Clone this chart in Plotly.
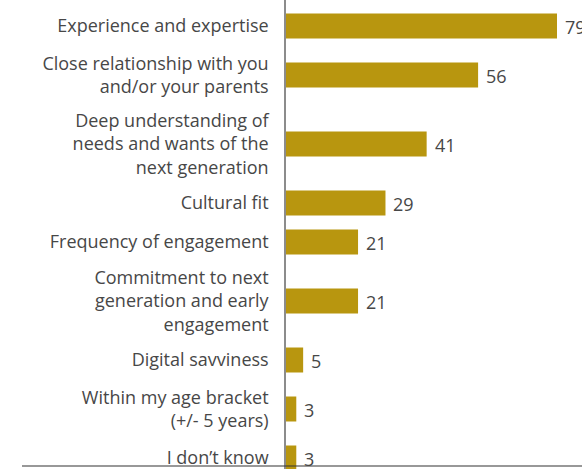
import plotly.graph_objects as go

# Survey responses (% of respondents)
categories = [
    "Experience and expertise",
    "Close relationship with you<br>and/or your parents",
    "Deep understanding of<br>needs and wants of the<br>next generation",
    "Cultural fit",
    "Frequency of engagement",
    "Commitment to next<br>generation and early<br>engagement",
    "Digital savviness",
    "Within my age bracket<br>(+/- 5 years)",
    "I don\u2019t know",
]
values = [79, 56, 41, 29, 21, 21, 5, 3, 3]

W, H = 582, 469
BAR_COLOR = "#B8960F"
TEXT_COLOR = "#474747"
FONT = "Open Sans"

# Row centres (in pixel-like units on a reversed y axis): spacing grows with
# the number of lines in the neighbouring labels.
lines = [c.count("<br>") + 1 for c in categories]
pos = [26.0]
for i in range(1, len(categories)):
    pos.append(pos[-1] + 39 + 10 * (lines[i - 1] - 1) + 10 * (lines[i] - 1))

x0_px = 286
px_per_unit = (557 - x0_px) / 79
x_max = (W - x0_px) / px_per_unit

fig = go.Figure()
fig.add_trace(go.Bar(
    x=values, y=pos, orientation="h", width=25,
    marker=dict(color=BAR_COLOR, line=dict(width=0)),
    hoverinfo="skip",
))

# Value labels just to the right of each bar
annotations = [
    dict(x=v, y=p, xref="x", yref="y", text=str(v), showarrow=False,
         xanchor="left", yanchor="middle", xshift=6, yshift=-1,
         font=dict(family=FONT, size=18, color=TEXT_COLOR))
    for v, p in zip(values, pos)
]

fig.update_layout(
    width=W, height=H,
    margin=dict(l=0, r=0, t=0, b=0),
    paper_bgcolor="white", plot_bgcolor="white",
    showlegend=False,
    font=dict(family=FONT, size=18, color=TEXT_COLOR),
    xaxis=dict(domain=[x0_px / W, 1], range=[0, x_max], visible=False, fixedrange=True),
    yaxis=dict(
        range=[H, 0], tickvals=pos, ticktext=categories,
        showgrid=False, zeroline=False,
        showline=True, linecolor="#8C8C8C", linewidth=1.5,
        ticks="", ticklabelstandoff=12, ticklabeloverflow="allow",
        tickfont=dict(family=FONT, size=18, color=TEXT_COLOR),
    ),
    annotations=annotations,
    shapes=[dict(
        type="line", xref="paper", yref="y",
        x0=22 / W, x1=1, y0=466, y1=466,
        line=dict(color="#333333", width=1.2), layer="above",
    )],
)

fig.write_html("out.html")
